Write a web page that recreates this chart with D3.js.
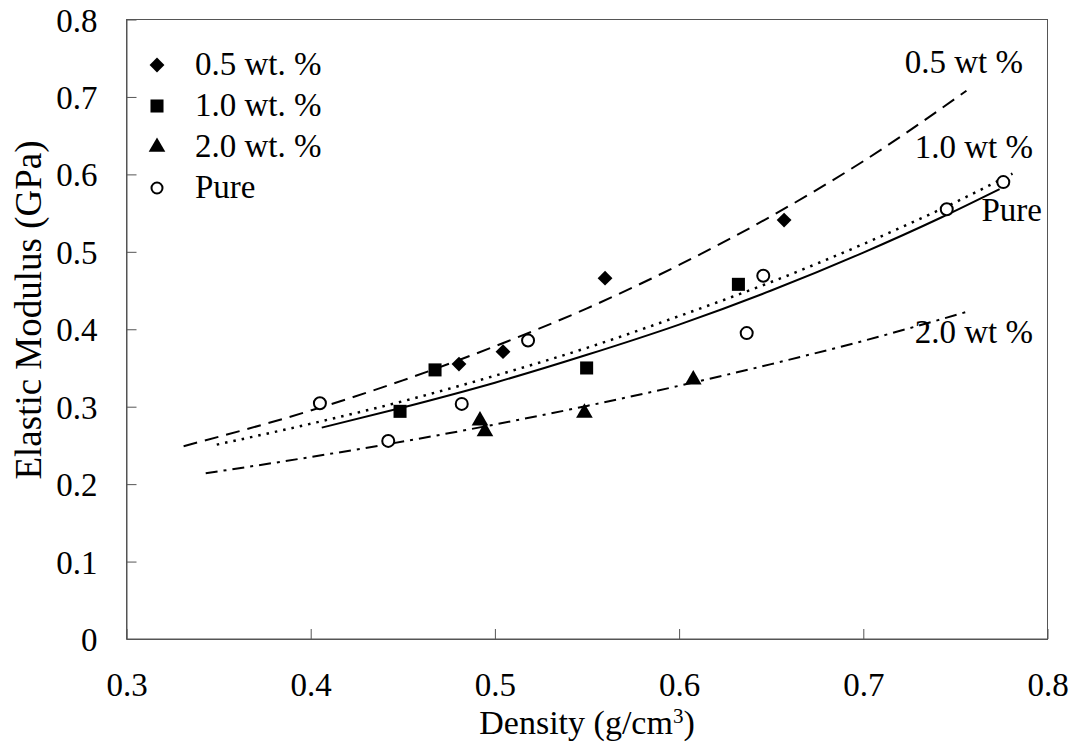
<!DOCTYPE html>
<html lang="en">
<head>
<meta charset="UTF-8">
<title>Elastic Modulus vs Density</title>
<script src="https://cdn.jsdelivr.net/npm/d3@7"></script>
<style>
  body { margin: 0; background: #fff; }
  text { font-family: "Liberation Serif", "Times New Roman", serif; fill: #000; }
</style>
</head>
<body>
<svg id="chart" width="1076" height="750"></svg>
<script>
// measured points, [density, modulus]
var wt05 = [[0.4805, 0.355], [0.5044, 0.371], [0.5598, 0.466], [0.657, 0.541]];
var wt10 = [[0.4675, 0.3475], [0.4485, 0.294], [0.5498, 0.350], [0.6322, 0.458]];
var wt20 = [[0.4919, 0.282], [0.4946, 0.268], [0.5486, 0.292], [0.6077, 0.335]];
var pure = [[0.405, 0.3045], [0.4421, 0.2558], [0.482, 0.3036], [0.518, 0.3854],
            [0.6457, 0.469], [0.6367, 0.395], [0.7453, 0.555], [0.776, 0.590]];

// trend lines
var fit05 = [[0.331, 0.249], [0.40, 0.295], [0.45, 0.334], [0.50, 0.378], [0.55, 0.427],
             [0.60, 0.483], [0.65, 0.546], [0.70, 0.617], [0.756, 0.708]];
var fit10 = [[0.349, 0.251], [0.40, 0.278], [0.45, 0.307], [0.50, 0.340], [0.55, 0.376],
             [0.60, 0.417], [0.65, 0.461], [0.70, 0.510], [0.75, 0.564], [0.781, 0.601]];
var fitPure = [[0.406, 0.273], [0.45, 0.299], [0.50, 0.331], [0.55, 0.367], [0.60, 0.406],
               [0.65, 0.450], [0.70, 0.499], [0.742, 0.544], [0.774, 0.581]];
var fit20 = [[0.343, 0.214], [0.40, 0.235], [0.45, 0.255], [0.50, 0.277], [0.55, 0.301],
             [0.60, 0.327], [0.65, 0.355], [0.70, 0.385], [0.757, 0.423]];

var xTicks = [0.3, 0.4, 0.5, 0.6, 0.7, 0.8];
var yTicks = [0, 0.1, 0.2, 0.3, 0.4, 0.5, 0.6, 0.7, 0.8];
var legendNames = ["0.5 wt. %", "1.0 wt. %", "2.0 wt. %", "Pure"];
var curveNames = ["0.5 wt %", "1.0 wt %", "Pure", "2.0 wt %"];

var svg = d3.select("#chart");
var pxL = 126.5, pxR = 1047.5, pxT = 19.5, pxB = 639;

var scX = d3.scaleLinear().domain([0.3, 0.8]).range([pxL, pxR]);
var scY = d3.scaleLinear().domain([0, 0.8]).range([pxB, pxT]);

// frame
svg.append("rect")
  .attr("x", pxL).attr("y", pxT)
  .attr("width", pxR - pxL).attr("height", pxB - pxT)
  .attr("fill", "none").attr("stroke", "#555").attr("stroke-width", 1);

// axes, ticks pointing inward
var axY = svg.append("g").attr("transform", `translate(${pxL},0)`)
  .call(d3.axisLeft(scY).tickValues(yTicks).tickSizeInner(-10).tickSizeOuter(0).tickPadding(29)
    .tickFormat(d => d === 0 ? "0" : d3.format(".1f")(d)));
var axX = svg.append("g").attr("transform", `translate(0,${pxB})`)
  .call(d3.axisBottom(scX).tickValues(xTicks).tickSizeInner(-10).tickSizeOuter(0).tickPadding(34)
    .tickFormat(d3.format(".1f")));
[axY, axX].forEach(g => {
  g.select(".domain").attr("stroke", "#555");
  g.selectAll(".tick line").attr("stroke", "#555");
  g.selectAll("text").attr("font-size", 33).attr("font-family", "Liberation Serif").attr("fill", "#000");
});
axY.selectAll("text").attr("dy", "0.35em");

// axis titles
svg.append("text")
  .attr("transform", "translate(41,310) rotate(-90)")
  .attr("text-anchor", "middle").attr("font-size", 37)
  .text("Elastic Modulus (GPa)");
var xt = svg.append("text")
  .attr("x", (pxL + pxR) / 2).attr("y", 734)
  .attr("text-anchor", "middle").attr("font-size", 34);
xt.append("tspan").text("Density (g/cm");
xt.append("tspan").attr("dy", -11).attr("font-size", 21).text("3");
xt.append("tspan").attr("dy", 11).text(")");

// trend lines
var line = d3.line().curve(d3.curveMonotoneX).x(d => scX(d[0])).y(d => scY(d[1]));
var lines = [
  { data: fit05, dash: "14,8", width: 2 },
  { data: fit10, dash: "2.5,6", width: 2.5 },
  { data: fitPure, dash: null, width: 2 },
  { data: fit20, dash: "12,6,3,6", width: 2 }
];
lines.forEach(l => {
  svg.append("path")
    .attr("d", line(l.data))
    .attr("fill", "none").attr("stroke", "#000")
    .attr("stroke-width", l.width)
    .attr("stroke-dasharray", l.dash);
});

// markers
var symDiamond = d3.symbol().type(d3.symbolSquare).size(110);
var symSquare = d3.symbol().type(d3.symbolSquare).size(170);
var symTri = d3.symbol().type(d3.symbolTriangle).size(120);

function drawSeries(data, kind) {
  var g = svg.append("g");
  g.selectAll("path").data(data).enter().append("path")
    .attr("d", kind === "diamond" ? symDiamond() : kind === "square" ? symSquare() : symTri())
    .attr("transform", d => `translate(${scX(d[0])},${scY(d[1])})` + (kind === "diamond" ? " rotate(45)" : ""))
    .attr("fill", "#000");
}
drawSeries(wt05, "diamond");
drawSeries(wt10, "square");
drawSeries(wt20, "triangle");
svg.append("g").selectAll("circle").data(pure).enter().append("circle")
  .attr("cx", d => scX(d[0])).attr("cy", d => scY(d[1])).attr("r", 6)
  .attr("fill", "#fff").attr("stroke", "#000").attr("stroke-width", 2);

// legend
var legY = [65, 106, 147, 188];
var leg = svg.append("g");
legendNames.forEach((name, i) => {
  var y = legY[i];
  if (i === 0) leg.append("path").attr("d", symDiamond()).attr("transform", `translate(157,${y}) rotate(45)`);
  if (i === 1) leg.append("path").attr("d", symSquare()).attr("transform", `translate(157,${y})`);
  if (i === 2) leg.append("path").attr("d", symTri()).attr("transform", `translate(157,${y})`);
  if (i === 3) leg.append("circle").attr("cx", 157).attr("cy", y).attr("r", 5.5)
    .attr("fill", "#fff").attr("stroke", "#000").attr("stroke-width", 2);
  leg.append("text").attr("x", 195).attr("y", y + 10).attr("font-size", 33).text(name);
});

// labels at the end of the curves
var curveLabelPos = [[1023, 73], [1033, 158], [1042, 221], [1033, 343]];
curveNames.forEach((name, i) => {
  svg.append("text")
    .attr("x", curveLabelPos[i][0]).attr("y", curveLabelPos[i][1])
    .attr("text-anchor", "end").attr("font-size", 33).text(name);
});
</script>
</body>
</html>
